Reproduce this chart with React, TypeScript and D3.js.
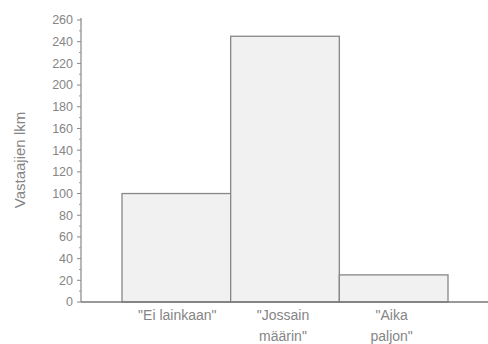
// Bar chart: vastaajien lukumäärä
import { useEffect, useRef } from 'react'
import * as d3 from 'd3'

const categories = ['"Ei lainkaan"', '"Jossain määrin"', '"Aika paljon"']
const labelLines = [['"Ei lainkaan"'], ['"Jossain', 'määrin"'], ['"Aika', 'paljon"']]
const counts = [100, 245, 25]
const yTicks = d3.range(0, 261, 20)
const yMinorTicks = d3.range(10, 260, 20)
const yLabel = 'Vastaajien lkm'

export default function App() {
  const svgRef = useRef<SVGSVGElement>(null)

  useEffect(() => {
    if (!svgRef.current) return
    const width = 488
    const height = 344
    const svg = d3.select(svgRef.current)
    svg.selectAll('*').remove()

    const axisX = 81
    const yScale = d3.scaleLinear().domain([0, 260]).range([302, 20])
    const xScale = d3.scaleBand<string>()
      .domain(categories)
      .range([122, 448])
      .padding(0)

    const font = '"Liberation Sans", Arial, sans-serif'
    const grey = '#858585'

    // bars
    svg.append('g')
      .selectAll('rect')
      .data(counts)
      .enter().append('rect')
      .attr('x', (_, i) => xScale(categories[i])!)
      .attr('y', d => yScale(d))
      .attr('width', xScale.bandwidth())
      .attr('height', d => yScale(0) - yScale(d))
      .attr('fill', '#f1f1f1')
      .attr('stroke', '#888')
      .attr('stroke-width', 1.3)

    // y axis
    const yAxis = svg.append('g')
    yAxis.append('line')
      .attr('x1', axisX).attr('x2', axisX)
      .attr('y1', yScale(260) - 2).attr('y2', yScale(0))
      .attr('stroke', '#888').attr('stroke-width', 1.2)

    yAxis.selectAll('.major')
      .data(yTicks)
      .enter().append('line')
      .attr('x1', axisX - 4).attr('x2', axisX)
      .attr('y1', d => yScale(d)).attr('y2', d => yScale(d))
      .attr('stroke', '#888')

    yAxis.selectAll('.minor')
      .data(yMinorTicks)
      .enter().append('line')
      .attr('x1', axisX - 2).attr('x2', axisX)
      .attr('y1', d => yScale(d)).attr('y2', d => yScale(d))
      .attr('stroke', '#999')

    yAxis.selectAll('text')
      .data(yTicks)
      .enter().append('text')
      .attr('x', axisX - 8)
      .attr('y', d => yScale(d))
      .attr('dy', '0.35em')
      .attr('text-anchor', 'end')
      .attr('font-family', font)
      .attr('font-size', 12.5)
      .attr('fill', grey)
      .text(d => d)

    // x axis line
    svg.append('line')
      .attr('x1', axisX).attr('x2', width)
      .attr('y1', yScale(0)).attr('y2', yScale(0))
      .attr('stroke', '#777').attr('stroke-width', 1.3)

    // category labels
    const labels = svg.append('g')
    categories.forEach((c, i) => {
      const cx = xScale(c)! + xScale.bandwidth() / 2 + (i === 0 ? 1 : -2)
      labelLines[i].forEach((line, j) => {
        labels.append('text')
          .attr('x', cx)
          .attr('y', 320 + j * 21)
          .attr('text-anchor', 'middle')
          .attr('font-family', font)
          .attr('font-size', 14)
          .attr('fill', grey)
          .text(line)
      })
    })

    // y label
    svg.append('text')
      .attr('transform', `translate(25, 160) rotate(-90)`)
      .attr('text-anchor', 'middle')
      .attr('font-family', font)
      .attr('font-size', 15)
      .attr('fill', grey)
      .text(yLabel)

    svg.attr('width', width).attr('height', height)
  }, [])

  return (
    <div style={{ position: 'absolute', left: 0, top: 0, background: '#fff' }}>
      <svg ref={svgRef} width={488} height={344} style={{ display: 'block' }} />
    </div>
  )
}
